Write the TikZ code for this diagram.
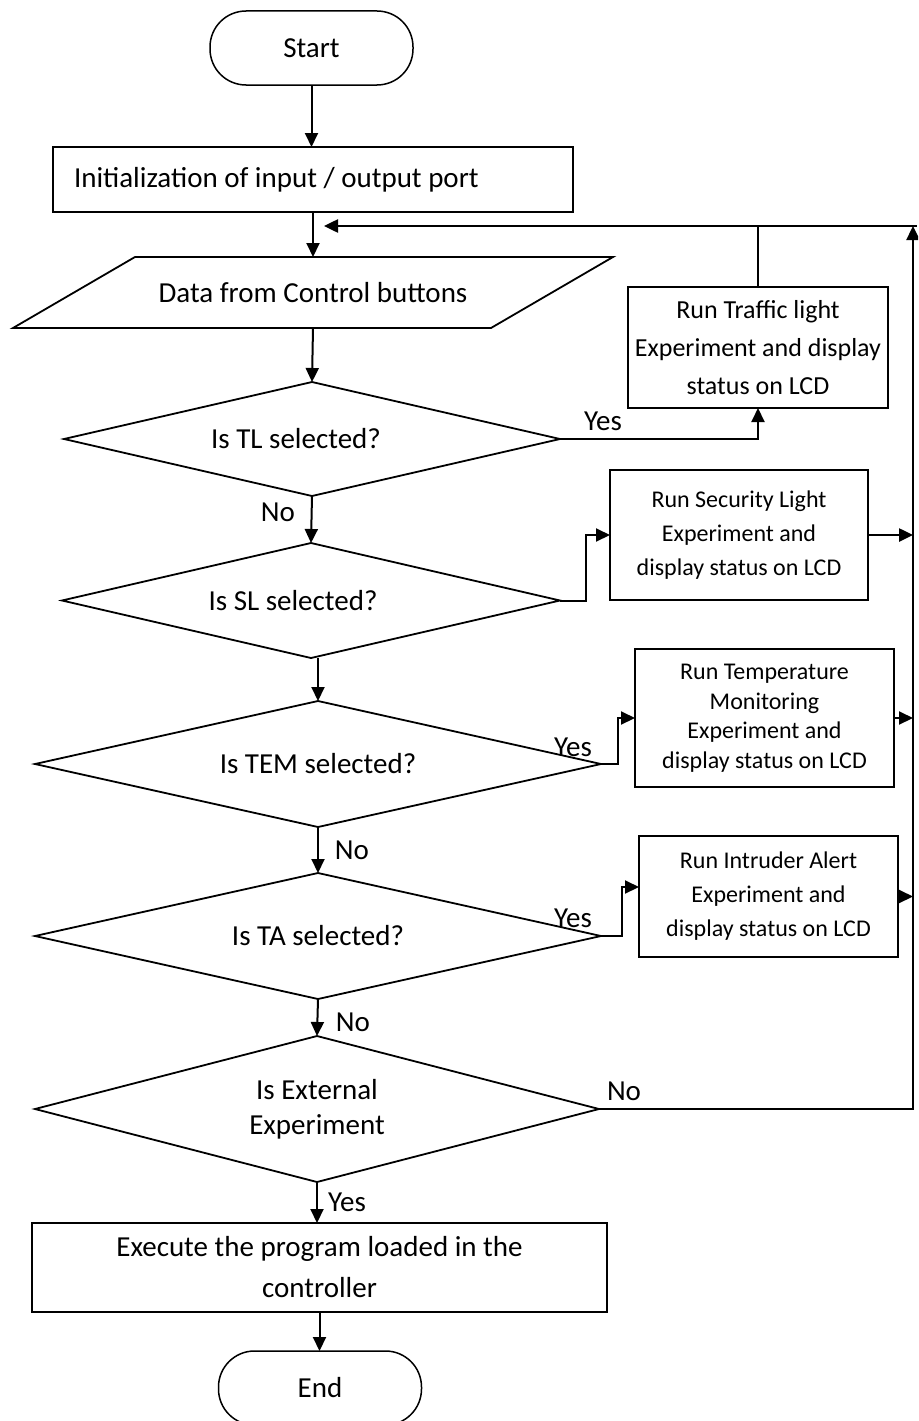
\documentclass[tikz,border=0pt]{standalone}
\usepackage{fontspec}
\setmainfont{Carlito}
\usetikzlibrary{shapes.geometric,arrows.meta}
\begin{document}
\begin{tikzpicture}[x=1pt,y=-1pt,
  every node/.style={font=\fontsize{29}{35}\selectfont, inner sep=0pt, outer sep=0pt},
  box/.style={draw, line width=1.8pt, rectangle, align=center},
  term/.style={draw, line width=1.5pt, rectangle, rounded corners=36pt, minimum width=203pt, minimum height=74pt},
  dec/.style={draw, line width=1.8pt, diamond, inner sep=0pt, align=center},
  conn/.style={line width=2.5pt},
  arr/.style={line width=2pt, -{Triangle[length=14pt,width=13pt]}},
  looparr/.style={line width=2.5pt, -{Triangle[length=14pt,width=13pt]}},
  lbl/.style={font=\fontsize{29}{35}\selectfont},
  smalltxt/.style={font=\fontsize{24}{34}\selectfont},
]
\useasboundingbox (0,0) rectangle (918,1421);
\clip (0,0) rectangle (918,1421);

% terminators
\node[term] (start) at (311.5,48) {Start};
\node[term] (end) at (320,1388) {End};

% process boxes
\node[box, minimum width=520pt, minimum height=65pt, text width=478pt, align=flush left, inner xsep=21pt] (init) at (313,179.5) {Initialization of input / output port};
\node[box, minimum width=575pt, minimum height=89pt, font=\fontsize{29}{41}\selectfont] (exec) at (319.5,1267.5) {Execute the program loaded in the\\controller};

% data (parallelogram)
\node[minimum width=478pt, minimum height=71pt] (data) at (313,292.5) {Data from Control buttons};
\draw[line width=1.8pt] ([xshift=61pt]data.north west) -- ([xshift=61pt]data.north east) -- ([xshift=-61pt]data.south east) -- ([xshift=-61pt]data.south west) -- cycle;

% decisions
\node[dec, aspect=4.35, minimum width=496pt, minimum height=114pt, label={[xshift=-16pt]center:Is TL selected?}] (d1) at (312,439) {};
\node[dec, aspect=4.33, minimum width=498pt, minimum height=115pt, label={[xshift=-18pt]center:Is SL selected?}] (d2) at (311,600.5) {};
\node[dec, aspect=4.49, minimum width=566pt, minimum height=126pt] (d3) at (318,764) {Is TEM selected?};
\node[dec, aspect=4.49, minimum width=566pt, minimum height=126pt] (d4) at (318,936) {Is TA selected?};
\node[dec, aspect=3.86, minimum width=564pt, minimum height=146pt] (d5) at (317,1109) {Is External\\Experiment};

% experiment boxes
\node[box, minimum width=260pt, minimum height=121pt, font=\fontsize{26}{38}\selectfont] (traffic) at (758,347.5) {Run Traffic light\\Experiment and display\\status on LCD};
\node[box, smalltxt, minimum width=258pt, minimum height=130pt] (sec) at (739,535) {Run Security Light\\Experiment and\\display status on LCD};
\node[box, minimum width=259pt, minimum height=138pt, font=\fontsize{24}{29.5}\selectfont] (temp) at (764.5,718) {Run Temperature\\Monitoring\\Experiment and\\display status on LCD};
\node[box, smalltxt, minimum width=259pt, minimum height=121pt] (intr) at (768.5,896.5) {Run Intruder Alert\\Experiment and\\display status on LCD};

% coordinates of the loop
\coordinate (rt) at (913,226);
\coordinate (fl) at (324,226);

% main flow
\draw[arr] (start.south) -- (start.south |- init.north);
\draw[arr] (init.south) -- (data.north);
\draw[arr] (data.south) -- (d1.north);
\draw[arr] (d1.south) -- (d2.north);
\draw[arr] (d3.north |- d2.south) -- (d3.north);
\draw[arr] (d3.south) -- (d4.north);
\draw[arr] (d4.south) -- (d5.north);
\draw[arr] (d5.south) -- (d5.south |- exec.north);
\draw[arr] (exec.south) -- (exec.south |- end.north);

% yes branches
\draw[arr] (d1.east) -| (traffic.south);
\draw[arr] (d2.east) -- ++(26,0) |- (sec.west);
\draw[arr] (d3.east) -- ++(17,0) |- (temp.west);
\draw[arr] (d4.east) -- ++(21,0) |- ([yshift=9.5pt]intr.west);

% loop back
\draw[looparr] (traffic.north) |- (fl);
\draw[conn] (traffic.north |- rt) -- ([xshift=4pt]rt);
\draw[looparr] (d5.east) -- (d5.east -| rt) -- (rt);
\draw[looparr] (sec.east) -- (sec.east -| rt);
\draw[arr] (temp.east) -- (temp.east -| rt);
\draw[arr] (intr.east) -- (intr.east -| rt);

% labels
\node[lbl] (y1) at (603,421) {Yes};
\node[lbl] (n1) at (278,512) {No};
\node[lbl] (y3) at (573,747) {Yes};
\node[lbl] (n3) at (352,850) {No};
\node[lbl] (y4) at (573,918) {Yes};
\node[lbl] (n4) at (353,1022) {No};
\node[lbl] (n5) at (624,1091) {No};
\node[lbl] (y5) at (347,1202) {Yes};
\end{tikzpicture}
\end{document}
